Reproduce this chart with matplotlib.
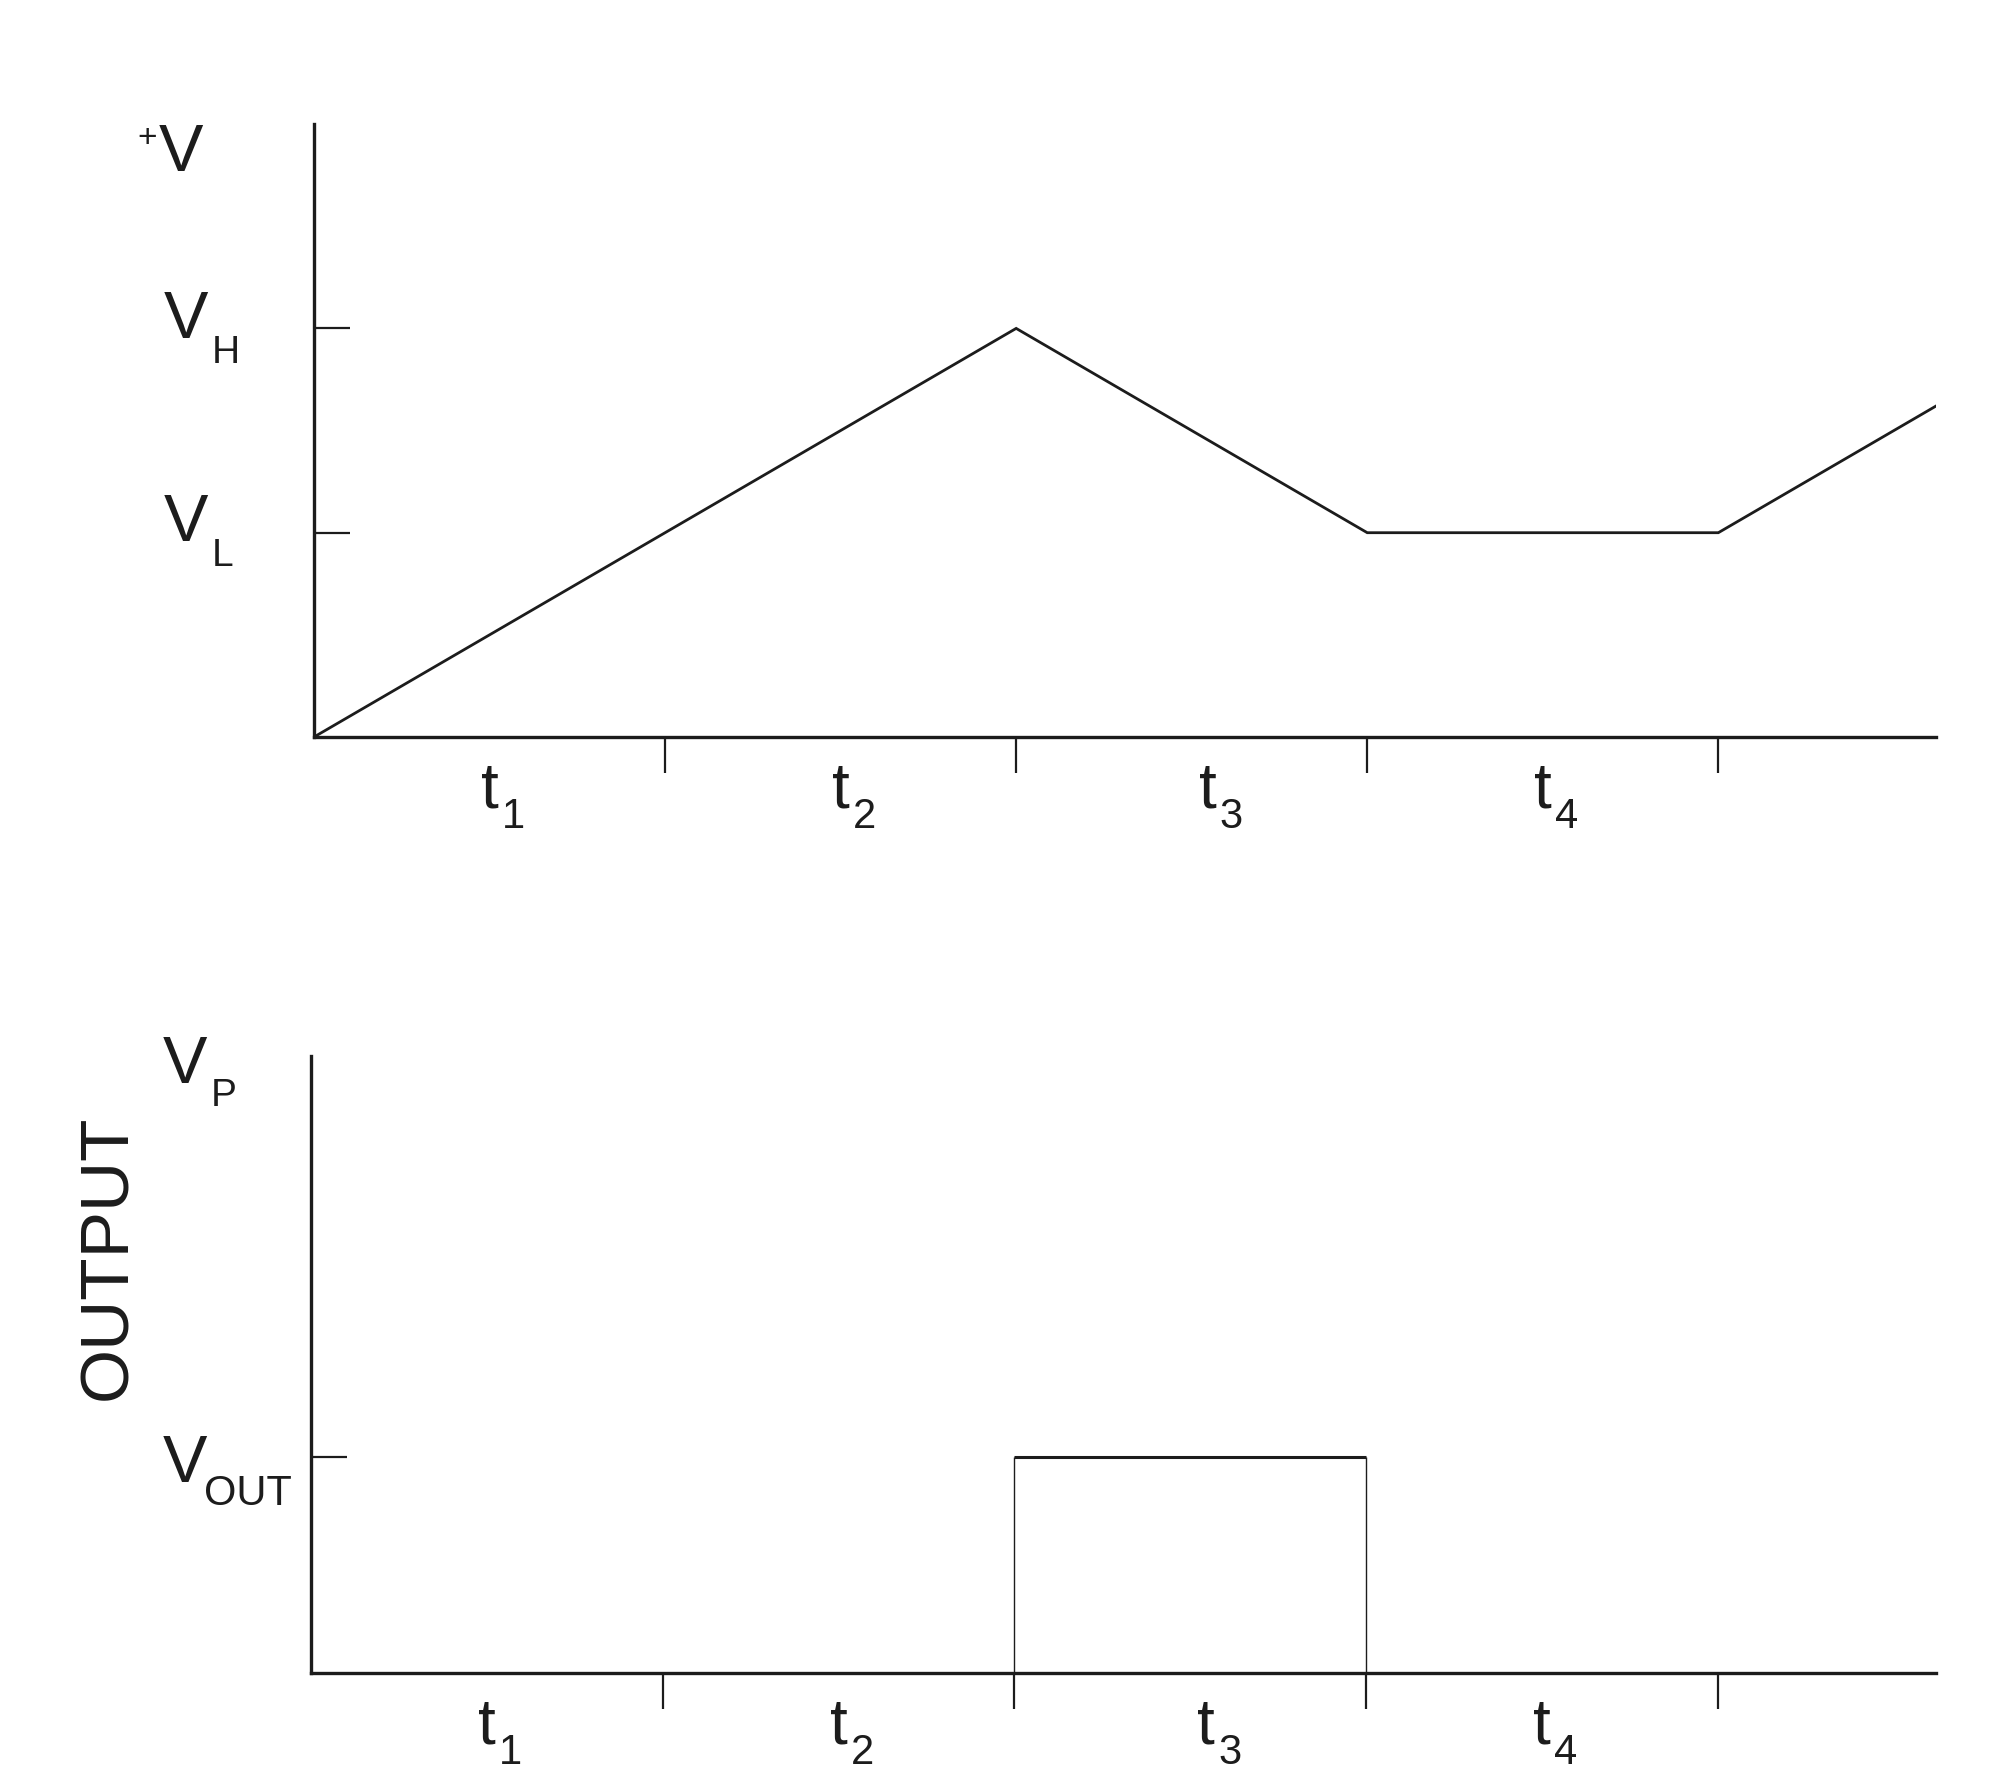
import matplotlib
matplotlib.use("Agg")
import matplotlib.pyplot as plt

plt.rcParams['font.family'] = ['Liberation Sans', 'DejaVu Sans']

INK = '#1c1c1c'

# --- data ---------------------------------------------------------------
time_ticks = [0, 1, 2, 3, 4]          # interval boundaries
t_end = 4.62                          # end of the drawn time axis
t_subs = ['1', '2', '3', '4']
t_nudge = [0, 0, 16, 0]               # px shift of each t label (t3 sits a bit right)

# input ramp (top panel)
ramp_t = [0, 2, 3, 4, 4.62]
ramp_v = [0, 2, 1, 1, 1.62]
v_low, v_high, v_top = 1, 2, 3

# output pulse (bottom panel)
pulse_on, pulse_off = 2, 3
v_out, v_peak = 1, 2.86


def sub_label(ax, base, sub, xy, xycoords, dx, dy, size, subsize,
              sub_dx, sub_dy, ha='right'):
    # base text anchored at a data point, subscript hung off its bbox
    t = ax.annotate(base, xy=xy, xycoords=xycoords, xytext=(dx, dy),
                    textcoords='offset pixels', fontsize=size, ha=ha,
                    va='baseline', color=INK, annotation_clip=False)
    ax.annotate(sub, xy=(1, 0), xycoords=t, xytext=(sub_dx, sub_dy),
                textcoords='offset pixels', fontsize=subsize, ha='left',
                va='baseline', color=INK, annotation_clip=False)
    return t


def time_axis(ax):
    ax.set_xlim(0, t_end)
    ax.set_xticks(time_ticks[1:])
    ax.set_xticklabels([])
    ax.set_yticklabels([])
    ax.tick_params(axis='x', direction='out', length=26, width=1.6, color=INK)
    ax.tick_params(axis='y', direction='in', length=26, width=1.6, color=INK)
    for s in ['top', 'right']:
        ax.spines[s].set_visible(False)
    for s in ['left', 'bottom']:
        ax.spines[s].set_linewidth(2.4)
        ax.spines[s].set_color(INK)
    mids = [(a + b) / 2 for a, b in zip(time_ticks[:-1], time_ticks[1:])]
    for m, s, n in zip(mids, t_subs, t_nudge):
        sub_label(ax, 't', s, (m, 0), ('data', 'axes fraction'), n, -70,
                  46, 30, 3, -8, ha='center')


fig = plt.figure(figsize=(20, 17.88), dpi=100)

# top panel: input voltage
ax1 = fig.add_axes([0.157, 0.5878, 0.811, 0.3428])
ax1.plot(ramp_t, ramp_v, color=INK, lw=2.0, solid_joinstyle='miter')
ax1.set_ylim(0, v_top)
ax1.set_yticks([v_low, v_high])
time_axis(ax1)

sub_label(ax1, 'V', 'H', (0, v_high), ('axes fraction', 'data'),
          -106, -10, 48, 28, 4, -11)
sub_label(ax1, 'V', 'L', (0, v_low), ('axes fraction', 'data'),
          -106, -8, 48, 28, 4, -11)
vplus = ax1.annotate('V', xy=(0, v_top), xycoords=('axes fraction', 'data'),
                     xytext=(-111, -47), textcoords='offset pixels',
                     fontsize=48, ha='right', va='baseline', color=INK,
                     annotation_clip=False)
ax1.annotate('+', xy=(0, 0), xycoords=vplus, xytext=(-2, 47),
             textcoords='offset pixels', fontsize=24, ha='right',
             va='center', color=INK, annotation_clip=False)

# bottom panel: output
ax2 = fig.add_axes([0.1555, 0.0643, 0.8125, 0.3451])
ax2.hlines(v_out, pulse_on, pulse_off, color=INK, lw=2.2)
ax2.vlines([pulse_on, pulse_off], 0, v_out, color=INK, lw=1.0)
ax2.set_ylim(0, v_peak)
ax2.set_yticks([v_out])
time_axis(ax2)

sub_label(ax2, 'V', 'P', (0, v_peak), ('axes fraction', 'data'),
          -104, -27, 48, 28, 4, -9)
sub_label(ax2, 'V', 'OUT', (0, v_out), ('axes fraction', 'data'),
          -104, -25, 48, 30, -3, -9)
ax2.text(-0.125, 0.674, 'OUTPUT', rotation=90, ha='center', va='center',
         fontsize=50, color=INK, transform=ax2.transAxes)

fig.savefig('out.png', dpi=100, facecolor='white')
